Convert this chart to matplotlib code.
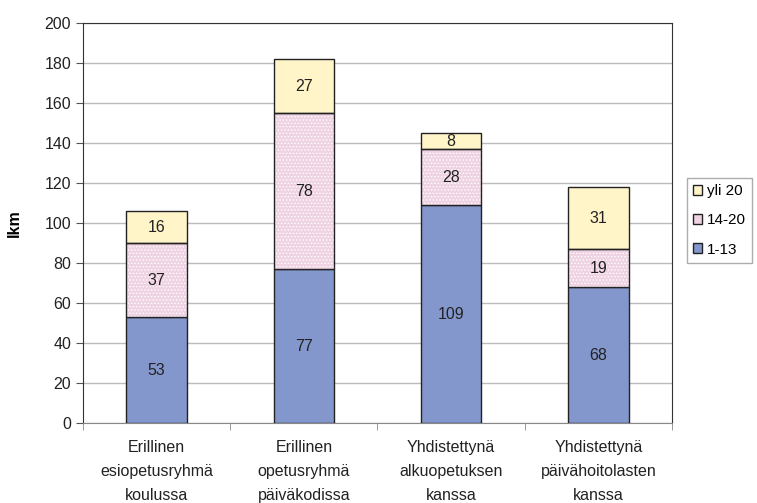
import numpy as np
import matplotlib.pyplot as plt
from matplotlib.patches import Patch

plt.rcParams['font.family'] = ['Liberation Sans', 'DejaVu Sans']
plt.rcParams['hatch.linewidth'] = 0.6

# donnees
categories = ["Erillinen\nesiopetusryhmä\nkoulussa",
              "Erillinen\nopetusryhmä\npäiväkodissa",
              "Yhdistettynä\nalkuopetuksen\nkanssa",
              "Yhdistettynä\npäivähoitolasten\nkanssa"]
ryhma_1_13 = [53, 77, 109, 68]
ryhma_14_20 = [37, 78, 28, 19]
ryhma_yli20 = [16, 27, 8, 31]

fs = 11.5

fig = plt.figure(figsize=(7.57, 5.03), dpi=100)
ax = fig.add_axes([0.1096, 0.159, 0.7781, 0.795])

x = np.arange(len(categories))
w = 0.41
bas = np.array(ryhma_1_13)
milieu = bas + np.array(ryhma_14_20)

ax.bar(x, ryhma_1_13, w, color='#8497CC', edgecolor='#222222', linewidth=1, zorder=3)
ax.bar(x, ryhma_14_20, w, bottom=bas, color='#EFD3E3', edgecolor='white', hatch='.....', linewidth=0, zorder=3)
ax.bar(x, ryhma_14_20, w, bottom=bas, color='none', edgecolor='#222222', linewidth=1, zorder=4)
ax.bar(x, ryhma_yli20, w, bottom=milieu, color='#FFF5C8', edgecolor='#222222', linewidth=1, zorder=3)

# etiquettes
for i in range(len(x)):
    ax.text(x[i], ryhma_1_13[i] / 2, str(ryhma_1_13[i]), ha='center', va='center', fontsize=fs, color='#222222', zorder=5)
    ax.text(x[i], bas[i] + ryhma_14_20[i] / 2, str(ryhma_14_20[i]), ha='center', va='center', fontsize=fs, color='#222222', zorder=5)
    ax.text(x[i], milieu[i] + ryhma_yli20[i] / 2, str(ryhma_yli20[i]), ha='center', va='center', fontsize=fs, color='#222222', zorder=5)

ax.set_xlim(-0.5, 3.5)
ax.set_ylim(0, 200)
ax.set_yticks(range(0, 201, 20))
ax.tick_params(axis='y', labelsize=fs, direction='out', length=5, color='#555555', labelcolor='#222222')
ax.yaxis.grid(True, color='#BBBBBB', linewidth=1, zorder=0)
ax.set_axisbelow(True)

ax.set_xticks(x)
ax.set_xticklabels(categories, fontsize=fs, linespacing=1.75, color='#222222')
ax.tick_params(axis='x', length=0, pad=12)
ax.set_xticks(np.arange(-0.5, 4.0, 1.0), minor=True)
ax.tick_params(axis='x', which='minor', length=5, color='#888888', direction='out')

ax.set_ylabel('lkm', fontsize=fs, fontweight='bold', labelpad=16)

for s in ['left', 'top', 'right']:
    ax.spines[s].set_color('#333333')
ax.spines['bottom'].set_color('#888888')

handles = [Patch(facecolor='#FFF5C8', edgecolor='#222222'),
           Patch(facecolor='#EFD3E3', edgecolor='#222222'),
           Patch(facecolor='#8497CC', edgecolor='#222222')]
leg = fig.legend(handles, ['yli 20', '14-20', '1-13'], loc='upper left',
                 bbox_to_anchor=(687 / 757, 1 - 178 / 503), fontsize=11,
                 frameon=True, fancybox=False, edgecolor='#999999',
                 handlelength=0.6, handleheight=0.6, handletextpad=0.3,
                 labelspacing=1.0, borderpad=0.4, borderaxespad=0)
leg.get_frame().set_linewidth(1)

fig.savefig('out.png', dpi=100)
